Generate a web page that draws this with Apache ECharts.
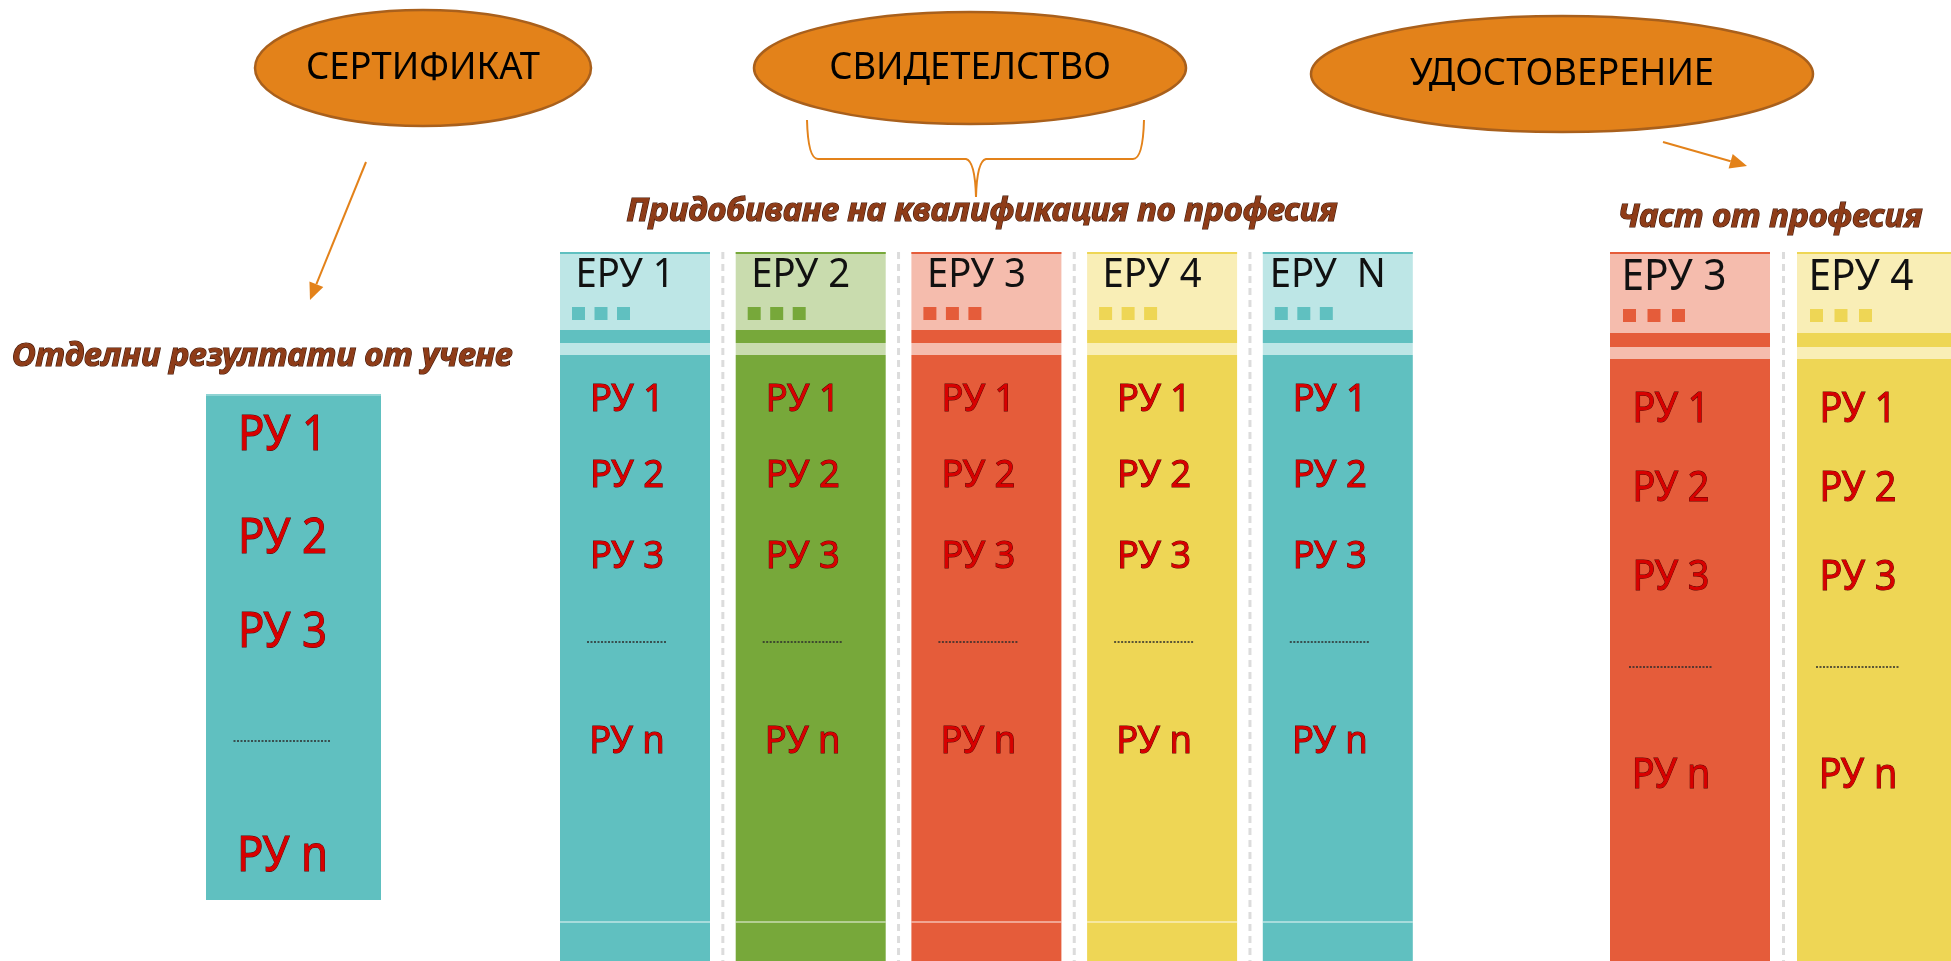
<!DOCTYPE html>
<html>
<head>
<meta charset="utf-8">
<script src="https://cdn.jsdelivr.net/npm/echarts@6/dist/echarts.min.js"></script>
<style>
html,body{margin:0;padding:0;background:#ffffff;}
#chart{width:1951px;height:961px;}
</style>
</head>
<body>
<div id="chart"></div>
<script>
// ---------------- data (text content only) ----------------
const documentTypes = ['СЕРТИФИКАТ', 'СВИДЕТЕЛСТВО', 'УДОСТОВЕРЕНИЕ'];
const groupTitles = ['Отделни резултати от учене', 'Придобиване на квалификация по професия', 'Част от професия'];
const qualificationUnits = ['ЕРУ 1', 'ЕРУ 2', 'ЕРУ 3', 'ЕРУ 4', 'ЕРУ  N'];
const partialUnits = ['ЕРУ 3', 'ЕРУ 4'];
const learningOutcomes = ['РУ 1', 'РУ 2', 'РУ 3', '…', 'РУ n'];

// ---------------- styles ----------------
const PALETTE = [
  { dark: '#60c0c0', light: '#bde6e6' },
  { dark: '#77a83a', light: '#c9dcae' },
  { dark: '#e55c3a', light: '#f5bcad' },
  { dark: '#eed655', light: '#f9eeb6' }
];
function themeFor(label) {
  const n = parseInt(label.replace(/\D+/g, ''), 10);
  return PALETTE[isNaN(n) ? 0 : (n - 1) % PALETTE.length];
}
const ORANGE = '#e3821a';
const ORANGE_EDGE = '#a9601c';
const FAMILY = '"Noto Sans", "DejaVu Sans", sans-serif';

// ---------------- layout (axis units of a full-canvas grid) ----------------
const W = 1951, H = 961;
const LAYOUT = {
  badges: [
    { cx: 423, cy: 68, rx: 168, ry: 58 },
    { cx: 970, cy: 68, rx: 216, ry: 56 },
    { cx: 1562, cy: 74, rx: 251, ry: 58 }
  ],
  badgeFont: 39, badgeRefWidth: 234,
  titles: [{ cx: 262, cy: 357 }, { cx: 982, cy: 212 }, { cx: 1770, cy: 218 }],
  titleFont: 32, titleRefWidth: 711,
  connectors: [
    { kind: 'arrow', from: [366, 162], to: [310, 300] },
    { kind: 'brace', left: 807, right: 1144, top: 120, mid: 159, cx: 976, tip: 197 },
    { kind: 'arrow', from: [1663, 142], to: [1747, 166] }
  ],
  single: { left: 206, right: 381, top: 394, bottom: 900,
            rows: [436, 539, 633, 741, 857], dx: -11, font: 49, refW: 89, dotW: 98 },
  main: { left0: 560, step: 175.7, width: 150, top: 252, header: 330, band: 343, strip: 355, rule: 922,
          labelY: 276, labelDx: -10, labelFont: 40, labelRefW: 99,
          sqY: 307, sqX: 12, sqStep: 22.5, sq: 13,
          rows: [400, 476, 557, 642, 742], dx: -8, font: 38, refW: 74, dotW: 80 },
  part: { left0: 1610, step: 187, width: 160, top: 252, header: 333, band: 347, strip: 359, rule: null,
          labelY: 278, labelDx: -16, labelFont: 43, labelRefW: 105,
          sqY: 309, sqX: 13, sqStep: 24.5, sq: 13,
          rows: [410, 489, 578, 667, 776], dx: -19, font: 41, refW: 77, dotW: 84 }
};

// ---------------- helpers ----------------
const measureCtx = document.createElement('canvas').getContext('2d');
function textWidth(text, font) { measureCtx.font = font; return measureCtx.measureText(text).width; }
function fontOf(size, style, weight) { return (style || 'normal') + ' ' + (weight || 'normal') + ' ' + size + 'px ' + FAMILY; }
function fitScale(ref, font, target) { return target / textWidth(ref, font); }

function textEl(api, x, y, text, font, fill, o) {
  o = o || {};
  const p = api.coord([x, y]);
  const st = {
    x: 0, y: 0, text: text, font: font, fill: fill,
    align: o.align || 'center', verticalAlign: 'middle',
    textAlign: o.align || 'center', textVerticalAlign: 'middle'
  };
  if (o.stroke) { st.stroke = o.stroke; st.lineWidth = o.lineWidth || 1; }
  return { type: 'text', x: p[0], y: p[1], scaleX: o.scaleX || 1, scaleY: 1, style: st, z2: 10 };
}
function rectEl(api, x1, y1, x2, y2, fill) {
  const a = api.coord([x1, y1]), b = api.coord([x2, y2]);
  return { type: 'rect', shape: { x: Math.min(a[0], b[0]), y: Math.min(a[1], b[1]),
           width: Math.abs(b[0] - a[0]), height: Math.abs(b[1] - a[1]) }, style: { fill: fill } };
}
function lineEl(api, x1, y1, x2, y2, style) {
  const a = api.coord([x1, y1]), b = api.coord([x2, y2]);
  return { type: 'line', shape: { x1: a[0], y1: a[1], x2: b[0], y2: b[1] }, style: style, z2: 5 };
}
function arrowEls(api, from, to) {
  const a = api.coord(from), b = api.coord(to);
  const ang = Math.atan2(b[1] - a[1], b[0] - a[0]);
  const len = 17, half = 7.5;
  const base = [b[0] - len * Math.cos(ang), b[1] - len * Math.sin(ang)];
  const l = [base[0] + half * Math.sin(ang), base[1] - half * Math.cos(ang)];
  const r = [base[0] - half * Math.sin(ang), base[1] + half * Math.cos(ang)];
  return [
    { type: 'line', shape: { x1: a[0], y1: a[1], x2: base[0], y2: base[1] }, style: { stroke: ORANGE, lineWidth: 2 } },
    { type: 'polygon', shape: { points: [b, l, r] }, style: { fill: ORANGE } }
  ];
}
function braceEl(api, c) {
  const P = (x, y) => { const p = api.coord([x, y]); return p[0].toFixed(1) + ' ' + p[1].toFixed(1); };
  const d = 'M' + P(c.left, c.top) +
    'Q' + P(c.left + 1, c.mid) + ' ' + P(c.left + 11, c.mid) +
    'L' + P(c.cx - 10, c.mid) +
    'Q' + P(c.cx - 1, c.mid + 2) + ' ' + P(c.cx, c.tip) +
    'Q' + P(c.cx + 1, c.mid + 2) + ' ' + P(c.cx + 10, c.mid) +
    'L' + P(c.right - 11, c.mid) +
    'Q' + P(c.right - 1, c.mid) + ' ' + P(c.right, c.top);
  return { type: 'path', shape: { pathData: d }, style: { fill: null, stroke: ORANGE, lineWidth: 2 } };
}
function ellipseEl(api, e) {
  const c = api.coord([e.cx, e.cy]);
  const s = api.size([e.rx, e.ry]);
  const rx = Math.abs(s[0]), ry = Math.abs(s[1]);
  const d = 'M' + (c[0] - rx) + ' ' + c[1] +
    'A' + rx + ' ' + ry + ' 0 1 0 ' + (c[0] + rx) + ' ' + c[1] +
    'A' + rx + ' ' + ry + ' 0 1 0 ' + (c[0] - rx) + ' ' + c[1] + 'Z';
  return { type: 'path', shape: { pathData: d }, style: { fill: ORANGE, stroke: ORANGE_EDGE, lineWidth: 2.5 } };
}

// outcome list inside a box
const OUT_FILL = '#d80000', OUT_EDGE = '#5a0000';
function outcomeEls(api, cfg, centerX) {
  const font = fontOf(cfg.font);
  const sx = fitScale('РУ 1', font, cfg.refW);
  const els = [];
  learningOutcomes.forEach((t, k) => {
    const y = cfg.rows[k];
    if (t === '…') {
      els.push(lineEl(api, centerX + cfg.dx - cfg.dotW / 2, y, centerX + cfg.dx + cfg.dotW / 2, y,
        { stroke: '#2b2b2b', lineWidth: 1.6, lineDash: [2, 1.5] }));
    } else {
      els.push(textEl(api, centerX + cfg.dx, y, t, font, OUT_FILL,
        { scaleX: sx, stroke: OUT_EDGE, lineWidth: 1 }));
    }
  });
  return els;
}

// unit columns
const columns = [];
qualificationUnits.forEach((u, i) => columns.push({ label: u, cfg: LAYOUT.main, i: i, n: qualificationUnits.length }));
partialUnits.forEach((u, i) => columns.push({ label: u, cfg: LAYOUT.part, i: i, n: partialUnits.length }));

function renderColumn(params, api) {
  const col = columns[params.dataIndex];
  const c = col.cfg;
  const th = themeFor(col.label);
  const x0 = c.left0 + col.i * c.step, x1 = x0 + c.width, cx = (x0 + x1) / 2;
  const ch = [];
  ch.push(rectEl(api, x0, c.top, x1, c.header, th.light));
  ch.push(rectEl(api, x0, c.top, x1, c.top + 2, th.dark));
  ch.push(rectEl(api, x0, c.header, x1, c.band, th.dark));
  ch.push(rectEl(api, x0, c.band, x1, c.strip, th.light));
  ch.push(rectEl(api, x0, c.strip, x1, H, th.dark));
  if (c.rule != null) ch.push(lineEl(api, x0, c.rule, x1, c.rule, { stroke: 'rgba(255,255,255,0.6)', lineWidth: 1.5 }));
  for (let s = 0; s < 3; s++) {
    const sx0 = x0 + c.sqX + s * c.sqStep;
    ch.push(rectEl(api, sx0, c.sqY, sx0 + c.sq, c.sqY + c.sq, th.dark));
  }
  const lf = fontOf(c.labelFont);
  const lsx = fitScale('ЕРУ 1', lf, c.labelRefW);
  ch.push(textEl(api, cx + c.labelDx, c.labelY, col.label, lf, '#111111', { scaleX: lsx }));
  if (col.i < col.n - 1) {
    const gx = x1 + (c.step - c.width) / 2;
    ch.push(lineEl(api, gx, c.top, gx, H, { stroke: '#dcdcdc', lineWidth: 3, lineDash: [7, 5] }));
  }
  outcomeEls(api, c, cx).forEach(e => ch.push(e));
  return { type: 'group', children: ch };
}

function renderSingle(params, api) {
  const c = LAYOUT.single;
  const ch = [rectEl(api, c.left, c.top, c.right, c.bottom, PALETTE[0].dark),
              rectEl(api, c.left, c.top, c.right, c.top + 2, '#8fd3d3')];
  outcomeEls(api, c, (c.left + c.right) / 2).forEach(e => ch.push(e));
  return { type: 'group', children: ch };
}

function renderBadge(params, api) {
  const i = params.dataIndex;
  const e = LAYOUT.badges[i];
  const f = fontOf(LAYOUT.badgeFont);
  const sx = fitScale(documentTypes[0], f, LAYOUT.badgeRefWidth);
  const ch = [ellipseEl(api, e), textEl(api, e.cx, e.cy, documentTypes[i], f, '#000000', { scaleX: sx })];
  const con = LAYOUT.connectors[i];
  if (con.kind === 'arrow') arrowEls(api, con.from, con.to).forEach(x => ch.push(x));
  else ch.push(braceEl(api, con));
  return { type: 'group', children: ch };
}

function renderTitle(params, api) {
  const i = params.dataIndex;
  const t = LAYOUT.titles[i];
  const f = fontOf(LAYOUT.titleFont, 'italic', 'bold');
  const sx = fitScale(groupTitles[1], f, LAYOUT.titleRefWidth);
  return { type: 'group', children: [textEl(api, t.cx, t.cy, groupTitles[i], f, '#8e3c18',
           { scaleX: sx, stroke: '#3f1506', lineWidth: 1.2 })] };
}

const chart = echarts.init(document.getElementById('chart'), null, { renderer: 'canvas' });
chart.setOption({
  backgroundColor: '#ffffff',
  animation: false,
  grid: { left: 0, right: 0, top: 0, bottom: 0, containLabel: false },
  xAxis: { type: 'value', min: 0, max: W, show: false },
  yAxis: { type: 'value', min: 0, max: H, inverse: true, show: false },
  tooltip: { show: false },
  series: [
    { type: 'custom', name: 'units', renderItem: renderColumn, data: columns.map((c, i) => [i, 0]), silent: true, clip: false, z: 1 },
    { type: 'custom', name: 'single', renderItem: renderSingle, data: [[0, 0]], silent: true, clip: false, z: 1 },
    { type: 'custom', name: 'badges', renderItem: renderBadge, data: documentTypes.map((d, i) => [i, 0]), silent: true, clip: false, z: 2 },
    { type: 'custom', name: 'titles', renderItem: renderTitle, data: groupTitles.map((d, i) => [i, 0]), silent: true, clip: false, z: 3 }
  ]
});
</script>
</body>
</html>
